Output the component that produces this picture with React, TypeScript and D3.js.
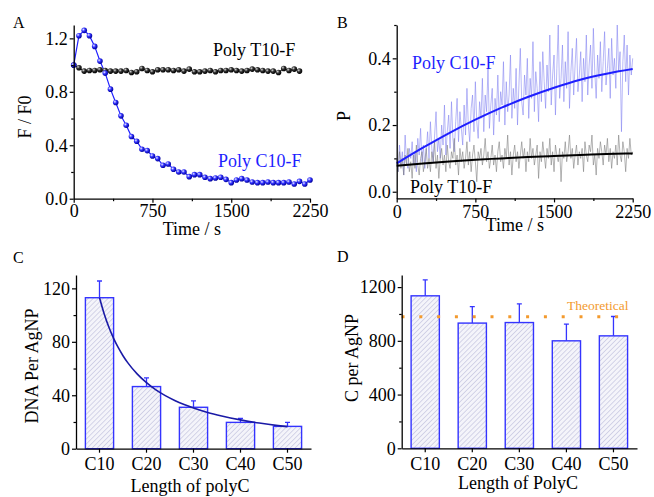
import React, { useEffect, useRef } from 'react'
import * as d3 from 'd3'

// Panel A: F/F0 against time, one point every 50 s
const timeA = [0, 50, 100, 150, 200, 250, 300, 350, 400, 450, 500, 550, 600, 650, 700, 750, 800, 850, 900, 950,
  1000, 1050, 1100, 1150, 1200, 1250, 1300, 1350, 1400, 1450, 1500, 1550, 1600, 1650, 1700, 1750, 1800, 1850, 1900, 1950,
  2000, 2050, 2100, 2150, 2200, 2250]
const c10A = [1.0, 1.22, 1.26, 1.22, 1.14, 1.03, 0.94, 0.82, 0.72, 0.62, 0.55, 0.465, 0.43, 0.37, 0.36, 0.32, 0.30, 0.25, 0.26, 0.22,
  0.20, 0.20, 0.165, 0.18, 0.18, 0.16, 0.15, 0.155, 0.16, 0.145, 0.12, 0.14, 0.15, 0.14, 0.125, 0.12, 0.12, 0.125, 0.12, 0.12,
  0.12, 0.125, 0.11, 0.13, 0.11, 0.14]
const t10A = [1.0, 0.98, 0.955, 0.96, 0.96, 0.965, 0.96, 0.955, 0.955, 0.955, 0.96, 0.945, 0.95, 0.975, 0.96, 0.95, 0.965, 0.965, 0.965, 0.96,
  0.965, 0.955, 0.97, 0.95, 0.95, 0.955, 0.96, 0.95, 0.96, 0.96, 0.965, 0.96, 0.955, 0.96, 0.97, 0.965, 0.96, 0.955, 0.955, 0.945,
  0.975, 0.96, 0.97, 0.955]

// Panel B: polarization, raw traces (even sampling over 0-2250 s) + fitted curves
const c10Raw = [
  0.10, 0.06, 0.14, 0.08, 0.12, 0.05, 0.17, 0.09, 0.07, 0.13, 0.10, 0.15,
  0.08, 0.12, 0.06, 0.16, 0.11, 0.19, 0.09, 0.14, 0.07, 0.12, 0.18, 0.10,
  0.21, 0.13, 0.09, 0.17, 0.24, 0.12, 0.16, 0.10, 0.20, 0.14, 0.26, 0.11,
  0.18, 0.23, 0.13, 0.27, 0.16, 0.12, 0.21, 0.28, 0.15, 0.24, 0.19, 0.14,
  0.26, 0.17, 0.31, 0.20, 0.15, 0.25, 0.29, 0.18, 0.33, 0.21, 0.16, 0.27,
  0.22, 0.34, 0.18, 0.29, 0.24, 0.37, 0.19, 0.26, 0.31, 0.17, 0.28, 0.23,
  0.35, 0.21, 0.30, 0.26, 0.39, 0.20, 0.33, 0.24, 0.29, 0.41, 0.22, 0.31,
  0.25, 0.37, 0.20, 0.32, 0.43, 0.27, 0.23, 0.35, 0.29, 0.40, 0.22, 0.34,
  0.28, 0.45, 0.24, 0.36, 0.31, 0.21, 0.39, 0.27, 0.42, 0.33, 0.25, 0.38,
  0.30, 0.47, 0.26, 0.35, 0.41, 0.23, 0.37, 0.50, 0.28, 0.34, 0.44, 0.27,
  0.39, 0.31, 0.48, 0.25, 0.36, 0.43, 0.29, 0.38, 0.46, 0.30, 0.35, 0.42,
  0.27, 0.40, 0.33, 0.47, 0.29, 0.38, 0.44, 0.31, 0.49, 0.36, 0.28, 0.41,
  0.34, 0.45, 0.30, 0.39, 0.48, 0.32, 0.37, 0.43, 0.28, 0.46, 0.35, 0.40,
  0.31, 0.50, 0.36, 0.42, 0.18, 0.39, 0.47, 0.33, 0.44, 0.29, 0.41, 0.35,
  0.40]
const t10Raw = [
  0.09, 0.06, 0.12, 0.07, 0.10, 0.05, 0.11, 0.08, 0.13, 0.06, 0.09, 0.04,
  0.11, 0.07, 0.14, 0.08, 0.05, 0.10, 0.12, 0.06, 0.09, 0.13, 0.07, 0.10,
  0.06, 0.12, 0.09, 0.15, 0.07, 0.11, 0.04, 0.10, 0.13, 0.08, 0.11, 0.06,
  0.14, 0.09, 0.07, 0.12, 0.10, 0.16, 0.08, 0.11, 0.05, 0.13, 0.09, 0.12,
  0.07, 0.10, 0.15, 0.08, 0.12, 0.06, 0.11, 0.14, 0.09, 0.03, 0.12, 0.10,
  0.13, 0.08, 0.11, 0.16, 0.09, 0.12, 0.07, 0.10, 0.14, 0.08, 0.11, 0.06,
  0.12, 0.15, 0.09, 0.11, 0.07, 0.13, 0.10, 0.17, 0.08, 0.12, 0.05, 0.11,
  0.14, 0.09, 0.12, 0.07, 0.11, 0.15, 0.10, 0.13, 0.06, 0.12, 0.09, 0.16,
  0.10, 0.13, 0.08, 0.11, 0.14, 0.04, 0.12, 0.09, 0.15, 0.11, 0.07, 0.13,
  0.10, 0.16, 0.08, 0.12, 0.06, 0.14, 0.11, 0.09, 0.13, 0.03, 0.12, 0.10,
  0.15, 0.09, 0.12, 0.17, 0.10, 0.13, 0.07, 0.11, 0.14, 0.08, 0.12, 0.10,
  0.13, 0.06, 0.15, 0.11, 0.09, 0.14, 0.12, 0.17, 0.08, 0.11, 0.05, 0.13,
  0.10, 0.15, 0.12, 0.08, 0.14, 0.11, 0.16, 0.09, 0.13, 0.07, 0.12, 0.10,
  0.14, 0.08, 0.17, 0.11, 0.09, 0.15, 0.12, 0.06, 0.13, 0.10, 0.16, 0.11,
  0.12]
const timeFit = [0, 250, 500, 750, 1000, 1250, 1500, 1750, 2000, 2250]
const c10Fit = [0.085, 0.132, 0.176, 0.216, 0.252, 0.284, 0.312, 0.336, 0.354, 0.368]
const t10Fit = [0.078, 0.085, 0.091, 0.096, 0.1, 0.104, 0.107, 0.11, 0.113, 0.115]

// Panels C and D
const lengths = ['C10', 'C20', 'C30', 'C40', 'C50']
const dnaPerNP = [113, 46.5, 31, 19.7, 16.7]
const dnaErr = [12.5, 6.5, 4.8, 3, 3]
const fitLen = [10, 11, 12, 13, 14, 15, 16, 18, 20, 22, 24, 26, 28, 30, 33, 36, 40, 44, 48, 50]
const fitDna = [113, 100.8, 90.9, 82.6, 75.6, 69.6, 64.4, 56, 49.4, 44, 39.7, 36.1, 33, 30.4, 27.1, 24.5, 21.6, 19.2, 17.3, 16.5]
const cPerNP = [1135, 932, 936, 800, 837]
const cErr = [119, 123, 139, 124, 144]
const theoretical = 980

const font = 'Liberation Serif, Times New Roman, serif'
const blue = '#1f1fff'

export default function App() {
  const ref = useRef<SVGSVGElement>(null)

  useEffect(() => {
    const svg = d3.select(ref.current)
    svg.selectAll('*').remove()
    const defs = svg.append('defs')

    const ball = (id: string, c0: string, c1: string, c2: string) => {
      const g = defs.append('radialGradient').attr('id', id).attr('cx', '35%').attr('cy', '35%').attr('r', '65%')
      g.append('stop').attr('offset', '0%').attr('stop-color', c0)
      g.append('stop').attr('offset', '45%').attr('stop-color', c1)
      g.append('stop').attr('offset', '100%').attr('stop-color', c2)
    }
    ball('ballBlue', '#eeeeff', '#3535ff', '#0000a0')
    ball('ballBlack', '#d8d8d8', '#333', '#000')

    const hatch = defs.append('pattern').attr('id', 'hatch').attr('width', 3.5).attr('height', 3.5)
      .attr('patternUnits', 'userSpaceOnUse').attr('patternTransform', 'rotate(45)')
    hatch.append('rect').attr('width', 3.5).attr('height', 3.5).attr('fill', '#f4f4fa')
    hatch.append('line').attr('x1', 0).attr('y1', 0).attr('x2', 0).attr('y2', 3.5)
      .attr('stroke', '#b4b4d6').attr('stroke-width', 1)

    const style = (g: any) => {
      g.attr('font-family', font)
      g.select('.domain').attr('stroke', '#000').attr('stroke-width', 1.3)
      g.selectAll('.tick line').attr('stroke', '#000').attr('stroke-width', 1.2)
      g.selectAll('text').attr('font-family', font).attr('font-size', 18).attr('fill', '#000')
    }
    const xAxis = (scale: any, y: number, major: any[] | null, minor: number[], fmt: any, pad: number) => {
      const a = d3.axisBottom(scale).tickSize(4).tickSizeOuter(0).tickPadding(pad)
      if (major) a.tickValues(major)
      if (fmt) a.tickFormat(fmt)
      const g = svg.append('g').attr('transform', `translate(0,${y})`).call(a)
      style(g)
      if (minor.length) {
        const m = svg.append('g').attr('transform', `translate(0,${y})`)
          .call(d3.axisBottom(scale).tickValues(minor).tickSize(2.5).tickFormat(() => ''))
        m.select('.domain').remove()
        style(m)
      }
    }
    const yAxis = (scale: any, x: number, major: number[], minor: number[], fmt: any) => {
      const g = svg.append('g').attr('transform', `translate(${x},0)`)
        .call(d3.axisLeft(scale).tickValues(major).tickSize(4).tickSizeOuter(0).tickPadding(2).tickFormat(fmt))
      style(g)
      const m = svg.append('g').attr('transform', `translate(${x},0)`)
        .call(d3.axisLeft(scale).tickValues(minor).tickSize(2.5).tickFormat(() => ''))
      m.select('.domain').remove()
      style(m)
    }
    const label = (x: number, y: number, s: string, size = 18, color = '#000', anchor = 'start', rot = false) => {
      svg.append('text')
        .attr('transform', rot ? `translate(${x},${y}) rotate(-90)` : `translate(${x},${y})`)
        .attr('text-anchor', anchor).attr('font-family', font).attr('font-size', size)
        .attr('fill', color).text(s)
    }

    // ---------- A ----------
    const xA = d3.scaleLinear().domain([0, 2250]).range([73.7, 310])
    const yA = d3.scaleLinear().domain([0, 1.3]).range([198.7, 25])
    const lineA = d3.line<number>().x((_, i) => xA(timeA[i])).y(d => yA(d))
    svg.append('path').attr('d', lineA(t10A)).attr('fill', 'none').attr('stroke', '#000').attr('stroke-width', 1)
    svg.append('path').attr('d', lineA(c10A)).attr('fill', 'none').attr('stroke', blue).attr('stroke-width', 1.2)
    svg.selectAll('.bk').data(t10A).join('circle').attr('cx', (_, i) => xA(timeA[i])).attr('cy', d => yA(d))
      .attr('r', 2.8).attr('fill', 'url(#ballBlack)')
    svg.selectAll('.bl').data(c10A).join('circle').attr('cx', (_, i) => xA(timeA[i])).attr('cy', d => yA(d))
      .attr('r', 2.8).attr('fill', 'url(#ballBlue)')
    xAxis(xA, 198.7, [0, 750, 1500, 2250], [375, 1125, 1875], d3.format('d'), 2)
    yAxis(yA, 73.7, [0, 0.4, 0.8, 1.2], [0.2, 0.6, 1.0], d3.format('.1f'))
    label(13, 28, 'A', 16)
    label(213, 56, 'Poly T10-F')
    label(218, 167, 'Poly C10-F', 18, blue)
    label(191.8, 235, 'Time / s', 18, '#000', 'middle')
    label(31, 117, 'F / F0', 18, '#000', 'middle', true)

    // ---------- B ----------
    const xB = d3.scaleLinear().domain([0, 2250]).range([396.7, 632.7])
    const yB = d3.scaleLinear().domain([-0.02, 0.5]).range([198.4, 25])
    const rawLine = (arr: number[]) => d3.line<number>()
      .x((_, i) => xB((i * 2250) / (arr.length - 1))).y(d => yB(d))(arr)
    svg.append('path').attr('d', rawLine(c10Raw)).attr('fill', 'none').attr('stroke', '#8080f0')
      .attr('stroke-opacity', 0.8).attr('stroke-width', 0.7)
    svg.append('path').attr('d', rawLine(t10Raw)).attr('fill', 'none').attr('stroke', '#808080')
      .attr('stroke-opacity', 0.85).attr('stroke-width', 0.7)
    const fitLine = d3.line<number>().x((_, i) => xB(timeFit[i])).y(d => yB(d)).curve(d3.curveMonotoneX)
    svg.append('path').attr('d', fitLine(t10Fit)).attr('fill', 'none').attr('stroke', '#000').attr('stroke-width', 2)
    svg.append('path').attr('d', fitLine(c10Fit)).attr('fill', 'none').attr('stroke', blue).attr('stroke-width', 2)
    xAxis(xB, 198.4, [0, 750, 1500, 2250], [375, 1125, 1875], d3.format('d'), 3)
    yAxis(yB, 396.7, [0, 0.2, 0.4], [0.1, 0.3, 0.5], d3.format('.1f'))
    label(337, 28, 'B', 16)
    label(412, 69, 'Poly C10-F', 18, blue)
    label(410, 193, 'Poly T10-F')
    label(514.7, 231, 'Time / s', 18, '#000', 'middle')
    label(350, 116, 'P', 18, '#000', 'middle', true)

    // ---------- bar panels ----------
    const bars = (left: number, right: number, bottom: number, top: number, max: number,
      vals: number[], errs: number[]) => {
      const x = d3.scaleBand<string>().domain(lengths).range([left, right]).paddingInner(0.4).paddingOuter(0.2)
      const y = d3.scaleLinear().domain([0, max]).range([bottom, top])
      const g = svg.append('g')
      g.selectAll('rect').data(vals).join('rect')
        .attr('x', (_, i) => x(lengths[i])!).attr('y', d => y(d))
        .attr('width', x.bandwidth()).attr('height', d => bottom - y(d))
        .attr('fill', 'url(#hatch)').attr('stroke', '#3434ff').attr('stroke-width', 1.4)
      const cx = (i: number) => x(lengths[i])! + x.bandwidth() / 2
      g.selectAll('.err').data(vals).join('path')
        .attr('d', (d, i) => `M${cx(i)},${y(d)}V${y(d + errs[i])}M${cx(i) - 2.5},${y(d + errs[i])}H${cx(i) + 2.5}`)
        .attr('stroke', '#3434ff').attr('stroke-width', 1.3).attr('fill', 'none')
      return { x, y, cx }
    }

    // ---------- C ----------
    const C = bars(76, 311, 448.7, 275, 130, dnaPerNP, dnaErr)
    const xFit = d3.scaleLinear().domain([10, 50]).range([C.cx(0), C.cx(4)])
    svg.append('path').attr('d', d3.line<number>().x((_, i) => xFit(fitLen[i])).y(d => C.y(d))
      .curve(d3.curveMonotoneX)(fitDna))
      .attr('fill', 'none').attr('stroke', '#1a1aa6').attr('stroke-width', 1.6)
    xAxis(C.x, 448.7, null, [], null, 5)
    yAxis(C.y, 76, [0, 40, 80, 120], [20, 60, 100], d3.format('d'))
    label(13, 263, 'C', 16)
    label(190, 492, 'Length of polyC', 18, '#000', 'middle')
    label(38, 366, 'DNA Per AgNP', 18, '#000', 'middle', true)

    // ---------- D ----------
    const D = bars(401.7, 637, 448.3, 275, 1290, cPerNP, cErr)
    svg.append('line').attr('x1', 401.5).attr('x2', 622).attr('y1', D.y(theoretical)).attr('y2', D.y(theoretical))
      .attr('stroke', '#f39a2e').attr('stroke-width', 3).attr('stroke-dasharray', '3 14.8')
    svg.append('text').attr('x', 567).attr('y', 310).attr('font-family', font).attr('font-size', 13.5)
      .attr('fill', '#f39a2e').text('Theoretical')
    xAxis(D.x, 448.3, null, [], null, 5)
    yAxis(D.y, 401.7, [0, 400, 800, 1200], [200, 600, 1000], d3.format('d'))
    label(337, 262, 'D', 16)
    label(518, 489, 'Length of PolyC', 18, '#000', 'middle')
    label(358, 358, 'C per AgNP', 18, '#000', 'middle', true)
  }, [])

  return (
    <svg ref={ref} width={654} height={497}
      style={{ position: 'absolute', left: 0, top: 0, background: '#fff' }} />
  )
}
